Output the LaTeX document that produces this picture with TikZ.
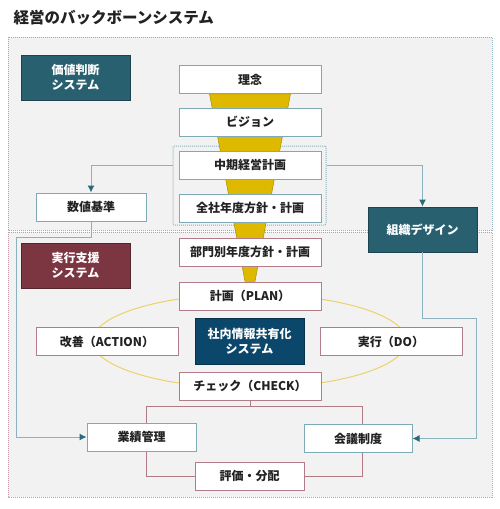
\documentclass[tikz,border=0pt]{standalone}
\usepackage{fontspec}
\setmainfont{Noto Sans CJK JP}
\usetikzlibrary{calc,arrows.meta,backgrounds}
\definecolor{regionbg}{HTML}{F2F2F2}
\definecolor{topline}{HTML}{8DB2BF}
\definecolor{botline}{HTML}{C99AA3}
\definecolor{boxteal}{HTML}{7EA9B6}
\definecolor{boxmauve}{HTML}{B27D88}
\definecolor{darkteal}{HTML}{29606F}
\definecolor{maroon}{HTML}{7B3642}
\definecolor{navy}{HTML}{0B476B}
\definecolor{gold}{HTML}{DFB800}
\definecolor{goldedge}{HTML}{A08400}
\definecolor{ringyellow}{HTML}{ECD26A}
\definecolor{linkteal}{HTML}{8CB2BE}
\definecolor{arrowteal}{HTML}{2B6A7B}
\definecolor{linkmauve}{HTML}{B07A85}
\definecolor{textdark}{HTML}{222222}

\begin{document}
\begin{tikzpicture}[x=1pt,y=-1pt,>={Latex[length=7pt,width=7pt,color=arrowteal]},
  font=\bfseries\fontsize{12}{15}\selectfont,
  box/.style={draw=boxteal,fill=white,line width=1pt,minimum width=142pt,minimum height=28pt,inner sep=0pt,text=textdark},
  pinkbox/.style={box,draw=boxmauve},
  smallbox/.style={box,minimum width=109pt},
  sysbox/.style={draw=#1!70!black,fill=#1,line width=0.8pt,minimum width=109pt,minimum height=45pt,inner sep=0pt,align=center,text=white},
  tealink/.style={draw=linkteal,line width=1pt},
  pinklink/.style={draw=linkmauve,line width=1pt}]
\useasboundingbox (0,0) rectangle (500,509);
\node[anchor=west,font=\bfseries\fontsize{15.5}{18}\selectfont,text=textdark] (title) at (10,18) {経営のバックボーンシステム};

\node[box] (rinen) at (250,79.5) {理念};
\node[box] (vision) at (250,122) {ビジョン};
\node[box] (chuki) at (250,165) {中期経営計画};
\node[box] (zensha) at (250,208) {全社年度方針・計画};
\node[pinkbox] (bumon) at (250,252) {部門別年度方針・計画};
\node[pinkbox] (plan) at (250,296) {計画（PLAN）};
\node[pinkbox] (check) at (250,386) {チェック（CHECK）};
\node[pinkbox] (kaizen) at (107,341.5) {改善（ACTION）};
\node[pinkbox] (jikko) at (391,341.5) {実行（DO）};
\node[sysbox=navy,minimum height=46pt] (share) at (249.5,341) {社内情報共有化\\システム};
\node[sysbox=darkteal] (kachi) at (75.5,77.5) {価値判断\\システム};
\node[sysbox=maroon] (shien) at (75.5,265.5) {実行支援\\システム};
\node[sysbox=darkteal] (soshiki) at (422.5,229.5) {組織デザイン};
\node[smallbox,minimum width=110pt] (suchi) at (91,207) {数値基準};
\node[smallbox] (gyoseki) at (141.5,437) {業績管理};
\node[smallbox,minimum width=108pt] (kaigi) at (358,438.5) {会議制度};
\node[smallbox,pinkbox,minimum width=109pt] (hyoka) at (249.5,476) {評価・分配};

\begin{scope}[on background layer]
\draw[fill=regionbg,draw=botline,densely dotted,line width=1pt] (8,232) rectangle (492,497);
\draw[fill=regionbg,draw=topline,densely dotted,line width=1pt] (8,37) rectangle (492,230);
\node[draw=topline,densely dotted,line width=1pt,rounded corners=1pt,minimum width=153pt,minimum height=79pt] (grp) at (249.5,185.5) {};
\fill[gold,draw=goldedge,line width=0.4pt] ($(rinen.south)+(-40.5,0)$) -- ($(rinen.south)+(40.5,0)$) -- ($(plan.north)+(5,0)$) -- ($(plan.north)+(-5,0)$) -- cycle;
\draw[ringyellow,line width=1pt] (share.center) ellipse [x radius=157pt,y radius=47pt];
\end{scope}

\coordinate (jl) at (16,237);
\coordinate (jr) at (476,318);
\coordinate (gl) at (146,406);
\coordinate (kl) at (362,406);
\draw[tealink,->] (chuki.west -| grp.west) -| (suchi.north);
\draw[tealink,->] (chuki.east -| grp.east) -| (soshiki.north);
\draw[tealink,->] (suchi.south) |- (jl) |- (gyoseki.west);
\draw[tealink,->] (soshiki.south) |- (jr) |- (kaigi.east);
\draw[pinklink] (check.south) -- (check.south |- gl);
\draw[pinklink] (gyoseki.north -| gl) -- (gl) -- (kl) -- (kaigi.north -| kl);
\draw[pinklink] (gyoseki.south -| gl) |- (hyoka.west);
\draw[pinklink] (hyoka.east) -| (kaigi.south -| kl);
\end{tikzpicture}
\end{document}
